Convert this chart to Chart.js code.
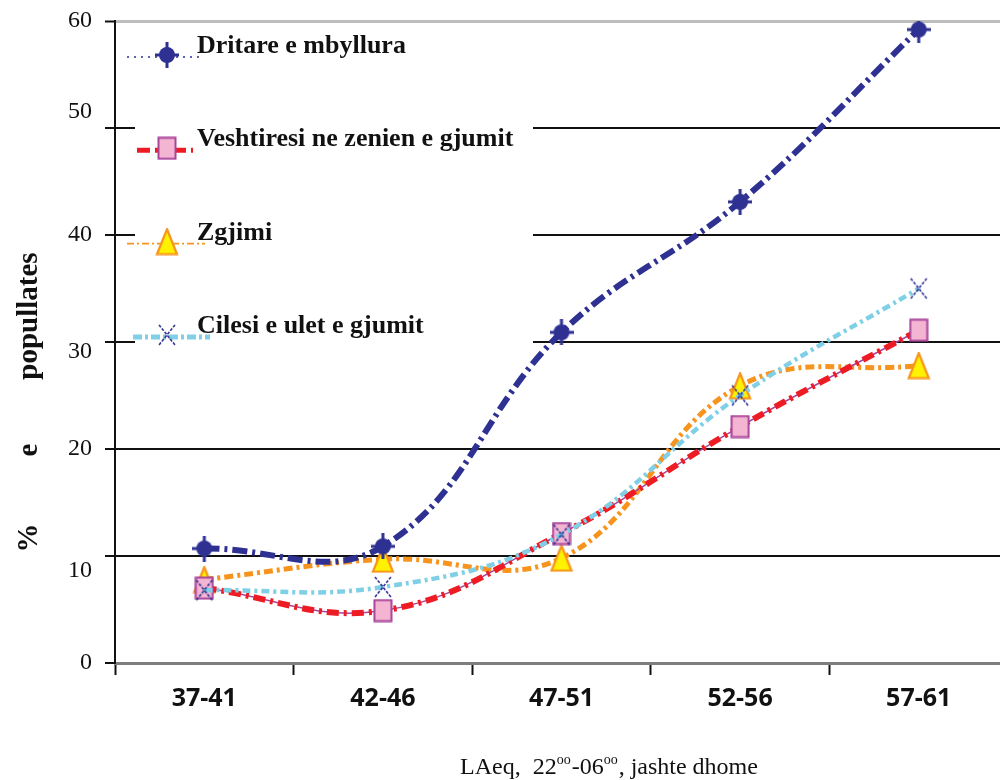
<!DOCTYPE html>
<html>
<head>
<meta charset="utf-8">
<title>Shqetesimet e gjumit sipas LAeq</title>
<style>
  html, body { margin: 0; padding: 0; background: #fff; width: 1000px; height: 780px; overflow: hidden; }
  canvas { display: block; }
</style>
<script src="https://cdn.jsdelivr.net/npm/chart.js@4.4.1/dist/chart.umd.min.js"></script>
</head>
<body>
<canvas id="chart" width="1008" height="780"></canvas>
<script>
// Noise bands (LAeq, night, outside the room)
const categories = ['37-41', '42-46', '47-51', '52-56', '57-61'];

// Share of the population (%) per band
const closedWindows = [10.7, 10.9, 30.9, 43.1, 59.2];
const fallingAsleep = [7.0, 4.9, 12.1, 22.1, 31.1];
const awakenings = [7.8, 9.7, 9.8, 25.9, 27.8];
const poorSleep = [6.8, 7.1, 12.0, 25.0, 35.0];

const seriesNames = [
  'Dritare e mbyllura',
  'Veshtiresi ne zenien e gjumit',
  'Zgjimi',
  'Cilesi e ulet e gjumit'
];

const yTicks = [0, 10, 20, 30, 40, 50, 60];
const yTitleWords = ['%', 'e', 'popullates'];
// [text, superscript?]
const xTitleParts = [['LAeq,  22', false], ['oo', true], ['-06', false], ['oo', true], [', jashte dhome', false]];

const NAVY = '#2E3192', RED = '#ED1C24', ORANGE = '#F7941D', SKY = '#7FCFE6';
const SERIF = "'Liberation Serif', 'Times New Roman', serif";

// ---- marker glyphs ----
function glyph(w, h, paint) {
  const c = document.createElement('canvas');
  c.width = w; c.height = h;
  paint(c.getContext('2d'), w, h);
  return c;
}
const dotMarker = glyph(24, 26, (g, w, h) => {
  g.fillStyle = NAVY;
  g.beginPath(); g.arc(w / 2, h / 2, 8, 0, Math.PI * 2); g.fill();
  g.fillRect(w / 2 - 1.5, 0, 3, h);
  g.fillRect(0, h / 2 - 1.5, w, 3);
});
const squareMarker = glyph(20, 24, (g) => {
  g.fillStyle = '#F4B5D3'; g.fillRect(1.5, 1.5, 17, 21);
  g.strokeStyle = '#A9449B'; g.lineWidth = 2; g.strokeRect(1.5, 1.5, 17, 21);
});
const triangleMarker = glyph(24, 28, (g) => {
  g.beginPath(); g.moveTo(12, 1.5); g.lineTo(22, 26.5); g.lineTo(2, 26.5); g.closePath();
  g.fillStyle = '#FFF200'; g.fill();
  g.strokeStyle = ORANGE; g.lineWidth = 2.2; g.lineJoin = 'miter'; g.stroke();
});
const crossMarker = glyph(20, 24, (g) => {
  g.strokeStyle = NAVY; g.lineWidth = 1.6; g.setLineDash([3, 1.5]);
  g.beginPath(); g.moveTo(2, 2); g.lineTo(18, 22); g.moveTo(18, 2); g.lineTo(2, 22); g.stroke();
});

// legend key line samples
const legendKeys = [
  { color: NAVY,   width: 1.5, dash: [2, 5],          from: 12, to: 88, marker: dotMarker },
  { color: RED,    width: 5,   dash: [13, 5],         from: 22, to: 78, marker: squareMarker },
  { color: ORANGE, width: 1.6, dash: [7, 3, 2, 3],    from: 12, to: 90, marker: triangleMarker },
  { color: SKY,    width: 5,   dash: [9, 3, 3, 3],    from: 18, to: 95, marker: crossMarker }
];

const legendPanel = {
  id: 'legendPanel',
  beforeDatasetsDraw(chart) {
    const { ctx, chartArea } = chart;
    ctx.save();
    ctx.fillStyle = '#fff';
    ctx.fillRect(chartArea.left + 20, chartArea.top + 4, 398, 322);
    legendKeys.forEach((k, i) => {
      const y = chartArea.top + 34 + i * 93.3;
      ctx.strokeStyle = k.color; ctx.lineWidth = k.width; ctx.setLineDash(k.dash);
      ctx.beginPath();
      ctx.moveTo(chartArea.left + k.from, y + 2);
      ctx.lineTo(chartArea.left + k.to, y + 2);
      ctx.stroke();
      ctx.setLineDash([]);
      Chart.helpers.drawPoint(ctx, { pointStyle: k.marker, radius: 10, rotation: 0, borderWidth: 0 }, chartArea.left + 52, y);
      ctx.fillStyle = '#111';
      ctx.font = 'bold 26px ' + SERIF;
      ctx.textBaseline = 'alphabetic';
      ctx.textAlign = 'left';
      ctx.fillText(seriesNames[i], chartArea.left + 82, y - 2);
    });
    ctx.restore();
  }
};

const axisTitles = {
  id: 'axisTitles',
  afterDraw(chart) {
    const { ctx } = chart;
    ctx.save();
    ctx.fillStyle = '#111';
    // vertical title
    ctx.font = 'bold 29px ' + SERIF;
    ctx.textAlign = 'center';
    ctx.textBaseline = 'middle';
    const centres = [538, 450, 316];
    yTitleWords.forEach((w, i) => {
      ctx.save();
      ctx.translate(30, centres[i]);
      ctx.rotate(-Math.PI / 2);
      ctx.fillText(w, 0, 0);
      ctx.restore();
    });
    // horizontal title with superscripts
    ctx.textAlign = 'left';
    ctx.textBaseline = 'alphabetic';
    let x = 460;
    const base = 774;
    xTitleParts.forEach(([t, sup]) => {
      ctx.font = (sup ? '14px ' : '24px ') + SERIF;
      ctx.fillText(t, x, sup ? base - 10 : base);
      x += ctx.measureText(t).width + (sup ? 1 : 0);
    });
    ctx.restore();
  }
};

// small vertical nudges of some value labels on the y axis
const labelNudge = { 50: -16, 30: 10, 10: 15 };

const smooth = 0.4;
new Chart(document.getElementById('chart'), {
  type: 'line',
  data: {
    labels: categories,
    datasets: [
      {
        label: seriesNames[0], data: closedWindows,
        borderColor: NAVY, borderWidth: 6, borderDash: [15, 5, 3, 5],
        pointStyle: dotMarker, pointRadius: 10, tension: smooth
      },
      {
        label: seriesNames[3], data: poorSleep,
        borderColor: SKY, borderWidth: 4.5, borderDash: [8, 4, 3, 4],
        pointStyle: crossMarker, pointRadius: 10, tension: smooth
      },
      {
        label: seriesNames[1], data: fallingAsleep,
        borderColor: RED, borderWidth: 6, borderDash: [12, 5, 3, 5],
        pointStyle: squareMarker, pointRadius: 10, tension: smooth
      },
      {
        label: seriesNames[1] + ' (kontur)', data: fallingAsleep,
        borderColor: '#A9449B', borderWidth: 1.5,
        pointRadius: 0, tension: smooth
      },
      {
        label: seriesNames[2], data: awakenings,
        borderColor: ORANGE, borderWidth: 5, borderDash: [9, 4, 3, 4],
        pointStyle: triangleMarker, pointRadius: 10, tension: smooth
      }
    ]
  },
  options: {
    responsive: false,
    animation: false,
    layout: { autoPadding: false, padding: { top: 21, left: 0, right: 0, bottom: 0 } },
    plugins: { legend: { display: false }, tooltip: { enabled: false } },
    scales: {
      x: {
        type: 'category',
        offset: true,
        afterFit(s) { s.height = 117; s.paddingLeft = 0; s.paddingRight = 0; },
        border: { display: true, color: '#7E7E7E', width: 3 },
        grid: {
          display: true, offset: true, drawOnChartArea: false, drawTicks: true,
          tickLength: 12, tickColor: '#111', tickWidth: 2
        },
        ticks: {
          color: '#111', padding: 9, maxRotation: 0,
          font: { family: "'Open Sans', 'Liberation Sans', sans-serif", weight: 'bold', size: 25 }
        }
      },
      y: {
        min: yTicks[0], max: yTicks[yTicks.length - 1],
        afterFit(s) { s.width = 115; s.paddingTop = 0; s.paddingBottom = 0; },
        border: { display: true, color: '#111', width: 2 },
        grid: {
          color: (c) => c.tick && c.tick.value === yTicks[yTicks.length - 1] ? '#BDBDBD'
            : (c.tick && c.tick.value === 0 ? 'rgba(0,0,0,0)' : '#111'),
          lineWidth: (c) => c.tick && c.tick.value === yTicks[yTicks.length - 1] ? 3 : 2,
          tickColor: '#111', tickLength: 10, tickWidth: 2
        },
        ticks: {
          stepSize: yTicks[1] - yTicks[0],
          color: '#111', padding: 13,
          callback: (v) => {
            const n = labelNudge[v];
            if (!n) return String(v);
            return n < 0 ? [String(v), ''] : ['', String(v)];
          },
          font: (c) => {
            const n = c.tick ? labelNudge[c.tick.value] : undefined;
            return { family: SERIF, size: 24, lineHeight: n ? (2 * Math.abs(n)) + 'px' : 1.2 };
          }
        }
      }
    }
  },
  plugins: [legendPanel, axisTitles]
});
</script>
</body>
</html>
